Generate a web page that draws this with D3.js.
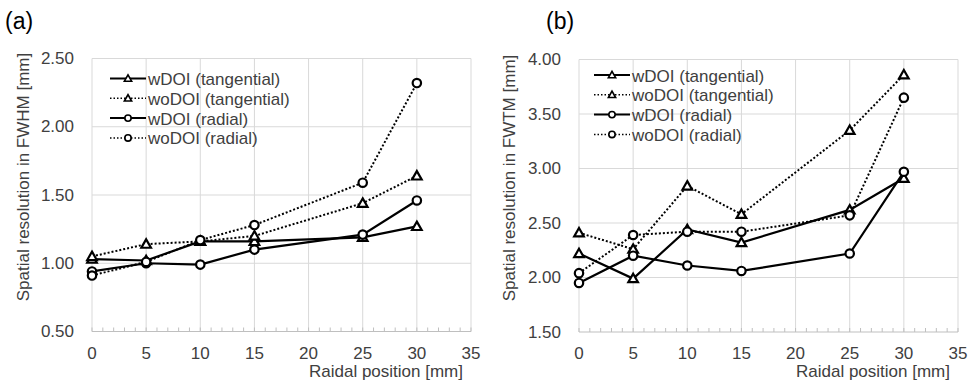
<!DOCTYPE html>
<html>
<head>
<meta charset="utf-8">
<script src="https://cdn.jsdelivr.net/npm/d3@7"></script>
<style>
  html, body { margin: 0; padding: 0; background: #fff; }
  svg { display: block; font-family: "Liberation Sans", Arial, sans-serif; }
</style>
</head>
<body>
<svg id="fig" width="972" height="380"></svg>
<script>
// Radial positions of the point source [mm]
const positions = [0, 5, 10, 15, 25, 30];
const xTicks = [0, 5, 10, 15, 20, 25, 30, 35];

// FWHM [mm]
const fwhmWdoiTan   = [1.03, 1.02, 1.16, 1.16, 1.19, 1.27];
const fwhmWodoiTan  = [1.05, 1.14, 1.16, 1.20, 1.44, 1.64];
const fwhmWdoiRad   = [0.94, 1.00, 0.99, 1.10, 1.21, 1.46];
const fwhmWodoiRad  = [0.91, 1.01, 1.17, 1.28, 1.59, 2.32];
const fwhmTicks = [0.5, 1.0, 1.5, 2.0, 2.5];

// FWTM [mm]
const fwtmWdoiTan   = [2.22, 1.99, 2.44, 2.32, 2.62, 2.91];
const fwtmWodoiTan  = [2.41, 2.26, 2.84, 2.58, 3.35, 3.86];
const fwtmWdoiRad   = [1.95, 2.20, 2.11, 2.06, 2.22, 2.97];
const fwtmWodoiRad  = [2.04, 2.39, 2.42, 2.42, 2.57, 3.65];
const fwtmTicks = [1.5, 2.0, 2.5, 3.0, 3.5, 4.0];

const seriesNames = ["wDOI (tangential)", "woDOI (tangential)", "wDOI (radial)", "woDOI (radial)"];
const seriesStyle = [
  { dotted: false, marker: "triangle" },
  { dotted: true,  marker: "triangle" },
  { dotted: false, marker: "circle" },
  { dotted: true,  marker: "circle" }
];

const svg = d3.select("#fig");
const GRID = "#d9d9d9";
const AXIS = "#bfbfbf";
const TEXT = "#404040";
const FS = 17;

function drawMarker(g, type, cx, cy, scale) {
  const k = scale || 1;
  if (type === "circle") {
    g.append("circle").attr("cx", cx).attr("cy", cy).attr("r", 4.2 * k)
      .attr("fill", "#fff").attr("stroke", "#000").attr("stroke-width", 2.2 * k);
  } else {
    const s = 4.8 * k;
    g.append("path")
      .attr("d", `M${cx},${cy - s} L${cx + s},${cy + s * 0.75} L${cx - s},${cy + s * 0.75} Z`)
      .attr("fill", "#fff").attr("stroke", "#000").attr("stroke-width", 2.2 * k)
      .attr("stroke-linejoin", "miter");
  }
}

function drawPanel(p) {
  const g = svg.append("g");
  const x = d3.scaleLinear().domain([0, 35]).range([p.left, p.right]);
  const y = d3.scaleLinear().domain([p.ticks[0], p.ticks[p.ticks.length - 1]]).range([p.bottom, p.top]);

  // gridlines
  g.selectAll(".hg").data(p.ticks.slice(1)).join("line")
    .attr("x1", p.left).attr("x2", p.right)
    .attr("y1", d => y(d)).attr("y2", d => y(d))
    .attr("stroke", GRID).attr("stroke-width", 1);
  g.selectAll(".vg").data(xTicks).join("line")
    .attr("x1", d => x(d)).attr("x2", d => x(d))
    .attr("y1", p.top).attr("y2", p.bottom)
    .attr("stroke", GRID).attr("stroke-width", 1);

  // bottom axis with minor ticks
  g.append("line").attr("x1", p.left).attr("x2", p.right)
    .attr("y1", p.bottom).attr("y2", p.bottom)
    .attr("stroke", AXIS).attr("stroke-width", 1);
  g.selectAll(".mt").data(d3.range(0, 36)).join("line")
    .attr("x1", d => x(d)).attr("x2", d => x(d))
    .attr("y1", p.bottom).attr("y2", p.bottom - 4)
    .attr("stroke", AXIS).attr("stroke-width", 1);

  // tick labels
  g.selectAll(".yl").data(p.ticks).join("text")
    .attr("x", p.left - 18).attr("y", d => y(d))
    .attr("text-anchor", "end").attr("dominant-baseline", "central")
    .attr("font-size", FS).attr("fill", TEXT)
    .text(d => d3.format(".2f")(d));
  g.selectAll(".xl").data(xTicks).join("text")
    .attr("x", d => x(d)).attr("y", p.bottom + 27)
    .attr("text-anchor", "middle")
    .attr("font-size", FS).attr("fill", TEXT)
    .text(d => d);

  // axis titles
  g.append("text").attr("x", p.right - 8).attr("y", 377)
    .attr("text-anchor", "end").attr("font-size", FS).attr("fill", TEXT)
    .text("Raidal position [mm]");
  g.append("text")
    .attr("transform", `translate(${p.yTitleX},${p.yTitleY}) rotate(-90)`)
    .attr("text-anchor", "middle").attr("dominant-baseline", "central")
    .attr("font-size", FS).attr("fill", TEXT)
    .text(p.yTitle);

  // panel letter
  g.append("text").attr("x", p.letterX).attr("y", 29)
    .attr("font-size", 23).attr("fill", "#000").text(p.letter);

  // series
  const line = d3.line().x((d, i) => x(positions[i])).y(d => y(d));
  p.series.forEach((vals, k) => {
    const st = seriesStyle[k];
    g.append("path").datum(vals).attr("d", line)
      .attr("fill", "none").attr("stroke", "#000")
      .attr("stroke-width", st.dotted ? 2 : 2.2)
      .attr("stroke-dasharray", st.dotted ? "2,2" : null);
    vals.forEach((v, i) => drawMarker(g, st.marker, x(positions[i]), y(v)));
  });

  // legend
  seriesNames.forEach((name, k) => {
    const st = seriesStyle[k];
    const ly = p.legendY + k * 19.8;
    g.append("line").attr("x1", p.legendX).attr("x2", p.legendX + 36)
      .attr("y1", ly).attr("y2", ly)
      .attr("stroke", "#000").attr("stroke-width", st.dotted ? 1.5 : 2)
      .attr("stroke-dasharray", st.dotted ? "1.5,2" : null);
    drawMarker(g, st.marker, p.legendX + 18, ly, 0.75);
    g.append("text").attr("x", p.legendX + 38).attr("y", ly + 1)
      .attr("dominant-baseline", "central")
      .attr("font-size", FS).attr("fill", TEXT).text(name);
  });
}

drawPanel({
  left: 92, right: 471, top: 58.5, bottom: 331.5,
  ticks: fwhmTicks,
  series: [fwhmWdoiTan, fwhmWodoiTan, fwhmWdoiRad, fwhmWodoiRad],
  yTitle: "Spatial resolution in FWHM [mm]", yTitleX: 23, yTitleY: 177,
  letter: "(a)", letterX: 5,
  legendX: 110, legendY: 78.5
});

drawPanel({
  left: 579, right: 958, top: 59.5, bottom: 332,
  ticks: fwtmTicks,
  series: [fwtmWdoiTan, fwtmWodoiTan, fwtmWdoiRad, fwtmWodoiRad],
  yTitle: "Spatial resolution in FWTM [mm]", yTitleX: 509, yTitleY: 178,
  letter: "(b)", letterX: 546,
  legendX: 594, legendY: 75
});
</script>
</body>
</html>
